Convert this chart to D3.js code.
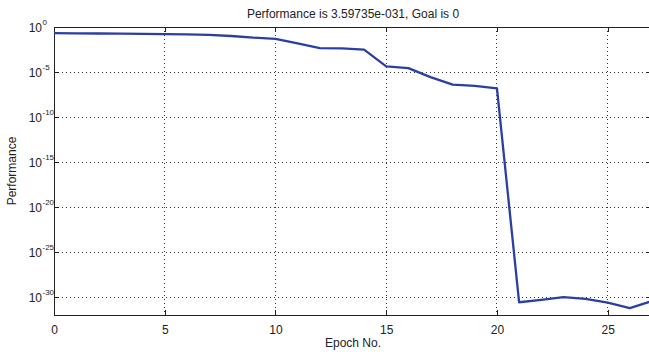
<!DOCTYPE html>
<html><head><meta charset="utf-8">
<script src="https://cdn.jsdelivr.net/npm/d3@7"></script>
<style>body{margin:0;background:#fff}svg{display:block}text{font-family:"Liberation Sans",Arial,sans-serif;fill:#222}</style>
</head><body><svg id="c" width="649" height="352"></svg>
<script>
const epochs = d3.range(0, 28);
const performance = [0.21, 0.20, 0.19, 0.18, 0.17, 0.16, 0.155, 0.13, 0.10, 0.065, 0.049, 0.0148, 0.0045, 0.0042, 0.003,
  4.2e-5, 2.7e-5, 2.7e-6, 3.9e-7, 2.9e-7, 1.5e-7, 2.6e-31, 4.8e-31, 9.5e-31, 6.2e-31, 2.4e-31, 5.8e-32, 3.59735e-31];
const xTicks = [0, 5, 10, 15, 20, 25];
const yTickExps = [0, -5, -10, -15, -20, -25, -30];
const title = "Performance is 3.59735e-031, Goal is 0";
const xLabel = "Epoch No.";
const yLabel = "Performance";

const svg = d3.select("#c");
const L = 54, R = 652, T = 27, B = 315;
const x = d3.scaleLinear().domain([0, 27]).range([L, R]);
const y = d3.scaleLog().domain([1e-32, 1]).range([B, T]);

// grid
const g = svg.append("g");
g.selectAll(".vg").data(xTicks.filter(d => d > 0)).join("line")
  .attr("x1", d => x(d)).attr("x2", d => x(d)).attr("y1", T).attr("y2", B)
  .attr("stroke", "#333").attr("stroke-width", 1).attr("stroke-dasharray", "1,3").attr("shape-rendering","crispEdges");
g.selectAll(".hg").data(yTickExps.filter(d => d < 0)).join("line")
  .attr("y1", d => y(Math.pow(10, d))).attr("y2", d => y(Math.pow(10, d))).attr("x1", L).attr("x2", R)
  .attr("stroke", "#333").attr("stroke-width", 1).attr("stroke-dasharray", "1,3").attr("shape-rendering","crispEdges");

// box
svg.append("rect").attr("x", L).attr("y", T).attr("width", R - L).attr("height", B - T)
  .attr("fill", "none").attr("stroke", "#222").attr("stroke-width", 1).attr("shape-rendering","crispEdges");

// axes via d3
const xAxisB = d3.axisBottom(x).tickValues(xTicks).tickSize(-5).tickPadding(10).tickFormat(d3.format("d"));
const xg = svg.append("g").attr("transform", `translate(0,${B})`).call(xAxisB);
const xAxisT = d3.axisTop(x).tickValues(xTicks).tickSize(-5).tickFormat("");
const xgt = svg.append("g").attr("transform", `translate(0,${T})`).call(xAxisT);
const yAxisL = d3.axisLeft(y).tickValues(yTickExps.map(e => Math.pow(10, e))).tickSize(-5).tickFormat("");
const yg = svg.append("g").attr("transform", `translate(${L},0)`).call(yAxisL);
const yAxisR = d3.axisRight(y).tickValues(yTickExps.map(e => Math.pow(10, e))).tickSize(-5).tickFormat("");
const ygr = svg.append("g").attr("transform", `translate(${R},0)`).call(yAxisR);
[xg, xgt, yg, ygr].forEach(a => {
  a.select(".domain").remove();
  a.selectAll(".tick line").attr("stroke", "#222").attr("shape-rendering","crispEdges");
});
xg.selectAll(".tick text").attr("font-size", 12).style("font-family", '"Liberation Sans",Arial,sans-serif').attr("fill", "#222");

// y tick labels with superscript
yTickExps.forEach(e => {
  svg.append("text").attr("x", 42).attr("y", y(Math.pow(10, e)) + 5)
    .attr("text-anchor", "end").attr("font-size", 12).text("10");
  svg.append("text").attr("x", 42.5).attr("y", y(Math.pow(10, e)) - 2)
    .attr("text-anchor", "start").attr("font-size", 8).text(String(e));
});

// line
const line = d3.line().x((d, i) => x(epochs[i])).y(d => y(d));
svg.append("path").datum(performance).attr("d", line)
  .attr("fill", "none").attr("stroke", "#2b3fa3").attr("stroke-width", 2.3).attr("stroke-linejoin", "round");

// labels
svg.append("text").attr("x", (L + R) / 2).attr("y", 18).attr("text-anchor", "middle").attr("font-size", 12).text(title);
svg.append("text").attr("x", (L + R) / 2).attr("y", 347).attr("text-anchor", "middle").attr("font-size", 12).text(xLabel);
svg.append("text").attr("transform", `translate(16,${(T + B) / 2}) rotate(-90)`).attr("text-anchor", "middle").attr("font-size", 12).text(yLabel);
</script></body></html>
